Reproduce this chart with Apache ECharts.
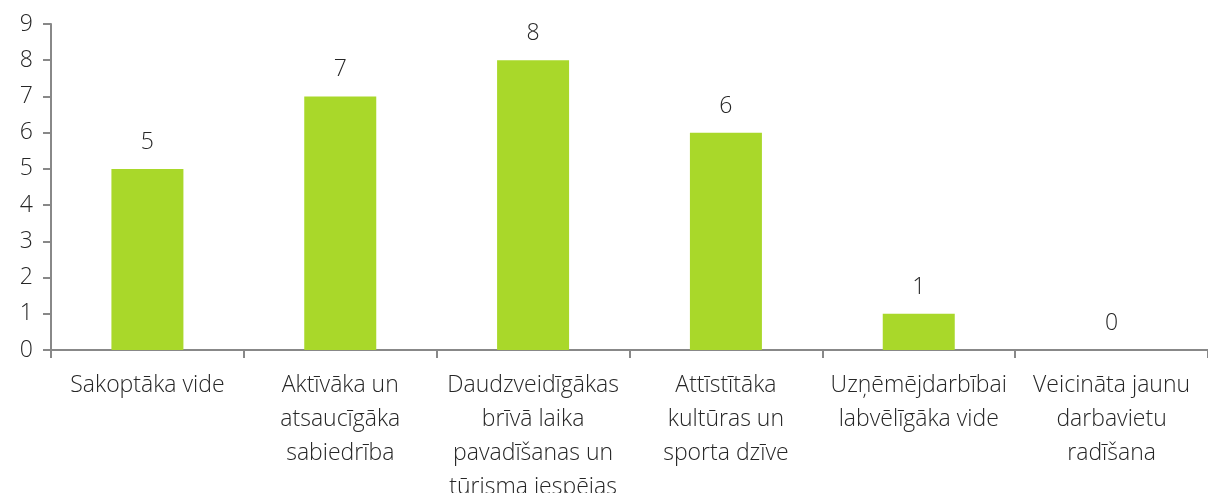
<!DOCTYPE html>
<html>
<head>
<meta charset="utf-8">
<script src="https://cdn.jsdelivr.net/npm/echarts@6/dist/echarts.min.js"></script>
<style>
  html, body { margin: 0; padding: 0; background: #fff; }
  #chart { width: 1208px; height: 493px; }
</style>
</head>
<body>
<div id="chart"></div>
<script>
const categories = [
  'Sakoptāka vide',
  'Aktīvāka un\natsaucīgāka\nsabiedrība',
  'Daudzveidīgākas\nbrīvā laika\npavadīšanas un\ntūrisma iespējas',
  'Attīstītāka\nkultūras un\nsporta dzīve',
  'Uzņēmējdarbībai\nlabvēlīgāka vide',
  'Veicināta jaunu\ndarbavietu\nradīšana'
];
const values = [5, 7, 8, 6, 1, 0];

const textColor = '#262626';
const fontFamily = '"Open Sans", "Noto Sans", sans-serif';

const myChart = echarts.init(document.getElementById('chart'));
myChart.setOption({
  animation: false,
  grid: { left: 51, right: 0, top: 24, bottom: 143, containLabel: false, outerBoundsMode: 'none' },
  xAxis: {
    type: 'category',
    data: categories,
    axisLine: { lineStyle: { color: '#888', width: 2 } },
    axisTick: { show: true, length: 8, lineStyle: { color: '#888', width: 2 } },
    axisLabel: {
      interval: 0,
      margin: 18,
      color: textColor,
      fontSize: 23,
      lineHeight: 34,
      fontFamily: fontFamily,
      fontWeight: 300
    }
  },
  yAxis: {
    type: 'value',
    min: 0,
    max: 9,
    interval: 1,
    axisLine: { show: true, lineStyle: { color: '#888', width: 2 } },
    axisTick: { show: true, length: 8, lineStyle: { color: '#888', width: 2 } },
    splitLine: { show: false },
    axisLabel: {
      margin: 18,
      color: textColor,
      fontSize: 23,
      fontFamily: fontFamily,
      fontWeight: 300
    }
  },
  series: [{
    type: 'bar',
    data: values,
    barWidth: 72,
    itemStyle: { color: '#a9d82a' },
    label: {
      show: true,
      position: 'top',
      distance: 15,
      color: textColor,
      fontSize: 23,
      fontFamily: fontFamily,
      fontWeight: 300
    }
  }]
});
</script>
</body>
</html>
